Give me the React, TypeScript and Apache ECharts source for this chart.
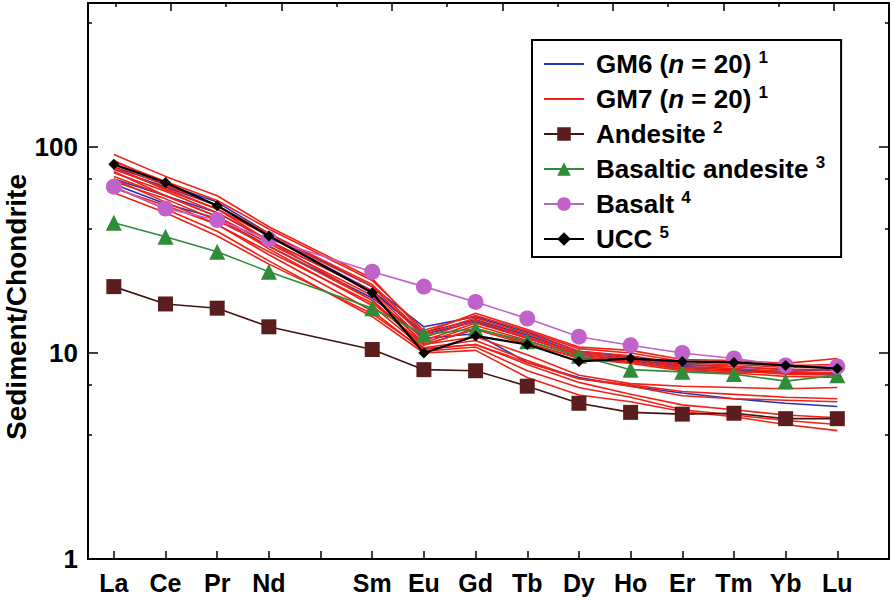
import React, { useEffect, useRef } from 'react';
import * as echarts from 'echarts';

// Element order on the x axis (Pm is a gap with no label)
const ELEMENTS = ['La', 'Ce', 'Pr', 'Nd', 'Pm', 'Sm', 'Eu', 'Gd', 'Tb', 'Dy', 'Ho', 'Er', 'Tm', 'Yb', 'Lu'];
const AXIS_LABELS = ['La', 'Ce', 'Pr', 'Nd', '', 'Sm', 'Eu', 'Gd', 'Tb', 'Dy', 'Ho', 'Er', 'Tm', 'Yb', 'Lu'];
const X_TICKS = [0, 1, 2, 3, 4, 5, 6, 7, 8, 9, 10, 11, 12, 13, 14];
const TOP_MAJOR = [1, 3, 5, 7, 9, 11, 13];
const TOP_MINOR = [0, 2, 4, 6, 8, 10, 12];
const Y_MAJOR = [1, 10, 100];
const Y_MINOR = [4, 7, 40, 70, 400];

// Reference compositions (chondrite normalised), null = Pm
const ANDESITE = [21.0, 17.3, 16.5, 13.4, null, 10.4, 8.3, 8.2, 6.9, 5.7, 5.15, 5.05, 5.1, 4.8, 4.8];
const BASALTIC_ANDESITE = [42.9, 36.7, 31.0, 24.8, null, 16.5, 12.3, 13.1, 11.4, 9.7, 8.3, 8.1, 7.9, 7.3, 7.8];
const BASALT = [64.2, 50.3, 44.2, 35.7, null, 24.8, 21.0, 17.7, 14.7, 12.0, 10.9, 10.0, 9.4, 8.7, 8.6];
const UCC = [82.4, 67.2, 51.9, 37.0, null, 19.6, 10.0, 12.1, 11.0, 9.1, 9.4, 9.1, 9.0, 8.7, 8.4];

// GM6 samples (blue)
const GM6_A = [80, 66, 54, 38, null, 21, 13.4, 15.0, 12.6, 10.2, 9.6, 8.8, 8.6, 8.3, 8.2];
const GM6_B = [78, 64, 52, 37, null, 20, 12.6, 14.5, 12.2, 10.0, 9.4, 8.6, 8.4, 8.1, 8.0];
const GM6_C = [66, 53, 45, 33, null, 18.5, 11.8, 12.4, 9.0, 7.6, 6.9, 6.4, 6.0, 5.7, 5.5];
const GM6_D = [70, 58, 48, 35, null, 20, 12.3, 14.2, 11.8, 9.8, 9.2, 8.5, 8.3, 8.0, 7.9];

// GM7 samples (red)
const GM7_A = [92, 72, 58, 41, null, 23, 12.5, 15.6, 13.0, 10.7, 10.3, 9.3, 9.2, 8.9, 9.4];
const GM7_B = [85, 68, 55, 40, null, 22.5, 12.9, 15.2, 12.8, 10.5, 10.0, 9.1, 9.0, 8.7, 8.8];
const GM7_C = [82, 65, 52, 38, null, 21.5, 12.3, 14.8, 12.4, 10.2, 9.7, 8.9, 8.8, 8.5, 8.5];
const GM7_D = [78, 63, 50, 37, null, 21, 11.9, 14.4, 12.0, 10.0, 9.5, 8.7, 8.6, 8.3, 8.3];
const GM7_E = [75, 61, 48, 35, null, 20, 11.5, 14.0, 11.8, 9.8, 9.3, 8.5, 8.4, 8.1, 8.0];
const GM7_F = [72, 58, 46, 34, null, 19, 11.2, 13.6, 11.5, 9.6, 9.1, 8.3, 8.2, 7.9, 7.8];
const GM7_G = [68, 56, 44, 33, null, 18, 10.9, 13.2, 11.2, 9.4, 8.9, 8.2, 8.0, 7.7, 7.6];
const GM7_H = [63, 52, 42, 31, null, 17.5, 11.0, 13.0, 11.0, 9.5, 9.0, 8.4, 8.1, 8.0, 8.0];
const GM7_I = [86, 66, 52, 37, null, 19.5, 11.0, 12.0, 9.8, 7.8, 7.1, 6.9, 6.8, 6.7, 6.8];
const GM7_J = [80, 62, 50, 35, null, 18, 10.6, 11.5, 9.2, 7.5, 6.9, 6.2, 6.0, 5.9, 5.8];
const GM7_K = [76, 58, 46, 32, null, 17, 10.5, 11.0, 8.8, 7.2, 6.3, 5.6, 5.3, 5.0, 4.85];
const GM7_L = [70, 54, 42, 30, null, 16, 10.2, 10.7, 8.2, 6.8, 6.1, 5.3, 5.0, 4.7, 4.5];
const GM7_M = [64, 50, 39, 28, null, 15, 10.0, 10.3, 7.6, 6.25, 5.8, 5.2, 4.9, 4.5, 4.2];
const GM7_N = [60, 48, 37, 27, null, 15.5, 10.4, 11.0, 9.0, 7.5, 7.0, 6.5, 6.3, 6.1, 6.0];

const GM6_SAMPLES = [GM6_A, GM6_B, GM6_C, GM6_D];
const GM7_SAMPLES = [GM7_A, GM7_B, GM7_C, GM7_D, GM7_E, GM7_F, GM7_G, GM7_H, GM7_I, GM7_J, GM7_K, GM7_L, GM7_M, GM7_N];

const FONT = '"Liberation Sans", Arial, Helvetica, sans-serif';
const BLUE = '#2337b5';
const RED = '#ef2218';
const BROWN = '#5a1e1e';
const BROWN_LINE = '#451212';
const GREEN = '#2f8c38';
const VIOLET = '#c062c9';

const toXY = (vals: (number | null)[]) =>
  vals.map((v, i) => (v == null ? null : [i, v])).filter((p) => p !== null) as number[][];

const LEGEND_TEXT: Record<string, string> = {
  GM6: '{a|GM6 (}{i|n}{u| = 20) }{s|1}',
  GM7: '{a|GM7 (}{i|n}{u| = 20) }{s|1}',
  Andesite: '{a|Andesite }{s|2}',
  'Basaltic andesite': '{a|Basaltic andesite }{s|3}',
  Basalt: '{a|Basalt }{s|4}',
  UCC: '{a|UCC }{s|5}',
};

export default function App() {
  const ref = useRef<HTMLDivElement>(null);

  useEffect(() => {
    if (!ref.current) return;
    const chart = echarts.init(ref.current, undefined, { renderer: 'svg' });

    const series: any[] = [];
    GM6_SAMPLES.forEach((s) =>
      series.push({
        name: 'GM6',
        type: 'line',
        data: toXY(s),
        symbol: 'none',
        lineStyle: { color: BLUE, width: 1.6 },
        itemStyle: { color: BLUE },
        z: 2,
      })
    );
    GM7_SAMPLES.forEach((s) =>
      series.push({
        name: 'GM7',
        type: 'line',
        data: toXY(s),
        symbol: 'none',
        lineStyle: { color: RED, width: 1.6 },
        itemStyle: { color: RED },
        z: 3,
      })
    );
    series.push({
      name: 'Andesite',
      type: 'line',
      data: toXY(ANDESITE),
      symbol: 'rect',
      symbolSize: 15,
      lineStyle: { color: BROWN_LINE, width: 1.6 },
      itemStyle: { color: BROWN },
      z: 4,
    });
    series.push({
      name: 'Basaltic andesite',
      type: 'line',
      data: toXY(BASALTIC_ANDESITE),
      symbol: 'triangle',
      symbolSize: 16,
      lineStyle: { color: GREEN, width: 1.6 },
      itemStyle: { color: GREEN },
      z: 5,
    });
    series.push({
      name: 'Basalt',
      type: 'line',
      data: toXY(BASALT),
      symbol: 'circle',
      symbolSize: 16,
      lineStyle: { color: VIOLET, width: 1.6 },
      itemStyle: { color: VIOLET },
      z: 6,
    });
    series.push({
      name: 'UCC',
      type: 'line',
      data: toXY(UCC),
      symbol: 'diamond',
      symbolSize: 11,
      lineStyle: { color: '#000', width: 2.2 },
      itemStyle: { color: '#000' },
      z: 7,
    });

    const axisLine = { show: true, onZero: false, lineStyle: { color: '#000', width: 2 } };
    const noLine = { show: false, onZero: false };
    const tickStyle = { color: '#000', width: 1.5 };

    chart.setOption({
      animation: false,
      backgroundColor: '#fff',
      grid: { left: 88, right: 5, top: 3, bottom: 43, containLabel: false, outerBoundsMode: 'none' },
      legend: {
        orient: 'vertical',
        left: 532,
        top: 40,
        padding: [9, 16, 3, 11],
        itemWidth: 40,
        itemHeight: 17,
        itemGap: 5,
        borderColor: '#000',
        borderWidth: 2,
        backgroundColor: '#fff',
        selectedMode: false,
        data: [
          { name: 'GM6', itemStyle: { opacity: 0 } },
          { name: 'GM7', itemStyle: { opacity: 0 } },
          { name: 'Andesite' },
          { name: 'Basaltic andesite' },
          { name: 'Basalt' },
          { name: 'UCC' },
        ],
        formatter: (name: string) => LEGEND_TEXT[name] || name,
        textStyle: {
          color: '#000',
          fontFamily: FONT,
          fontSize: 26,
          fontWeight: 'bold',
          lineHeight: 30,
          rich: {
            a: { fontFamily: FONT, fontSize: 26, fontWeight: 'bold', lineHeight: 30, padding: [0, 0, 0, 7], color: '#000' },
            u: { fontFamily: FONT, fontSize: 26, fontWeight: 'bold', lineHeight: 30, color: '#000' },
            i: { fontFamily: FONT, fontSize: 26, fontWeight: 'bold', fontStyle: 'italic', lineHeight: 30, color: '#000' },
            s: { fontFamily: FONT, fontSize: 17, fontWeight: 'bold', lineHeight: 14, verticalAlign: 'top', color: '#000' },
          },
        },
      },
      xAxis: [
        {
          type: 'value',
          position: 'bottom',
          min: -0.5,
          max: 15,
          axisLine,
          splitLine: { show: false },
          axisTick: { show: true, inside: true, length: 8, lineStyle: tickStyle, customValues: X_TICKS },
          axisLabel: {
            show: true,
            customValues: X_TICKS,
            formatter: (v: number) => AXIS_LABELS[Math.round(v)] ?? '',
            color: '#000',
            fontFamily: FONT,
            fontSize: 25,
            fontWeight: 'bold',
            margin: 11,
          },
        },
        {
          type: 'value',
          position: 'top',
          min: -0.5,
          max: 14,
          axisLine,
          splitLine: { show: false },
          axisTick: { show: true, inside: true, length: 8, lineStyle: tickStyle, customValues: TOP_MAJOR },
          axisLabel: { show: false },
        },
        {
          type: 'value',
          position: 'top',
          min: -0.5,
          max: 14,
          axisLine: noLine,
          splitLine: { show: false },
          axisTick: { show: true, inside: true, length: 4, lineStyle: tickStyle, customValues: TOP_MINOR },
          axisLabel: { show: false },
        },
      ],
      yAxis: [
        {
          type: 'log',
          position: 'left',
          min: 1,
          max: 500,
          logBase: 10,
          axisLine,
          splitLine: { show: false },
          axisTick: { show: true, inside: true, length: 10, lineStyle: tickStyle, customValues: Y_MAJOR },
          axisLabel: {
            show: true,
            customValues: Y_MAJOR,
            formatter: (v: number) => String(Math.round(v)),
            color: '#000',
            fontFamily: FONT,
            fontSize: 26,
            fontWeight: 'bold',
            margin: 10,
          },
          name: 'Sediment/Chondrite',
          nameLocation: 'middle',
          nameMoveOverlap: false,
          nameGap: 58,
          nameTextStyle: {
            color: '#000',
            fontFamily: FONT,
            fontSize: 28,
            fontWeight: 'bold',
            lineHeight: 28,
            padding: [0, 52, 0, 0],
          },
        },
        {
          type: 'log',
          position: 'left',
          min: 1,
          max: 500,
          axisLine: noLine,
          splitLine: { show: false },
          axisTick: { show: true, inside: true, length: 4, lineStyle: tickStyle, customValues: Y_MINOR },
          axisLabel: { show: false },
        },
        {
          type: 'log',
          position: 'right',
          min: 1,
          max: 500,
          axisLine,
          splitLine: { show: false },
          axisTick: { show: true, inside: true, length: 10, lineStyle: tickStyle, customValues: Y_MAJOR },
          axisLabel: { show: false },
        },
        {
          type: 'log',
          position: 'right',
          min: 1,
          max: 500,
          axisLine: noLine,
          splitLine: { show: false },
          axisTick: { show: true, inside: true, length: 4, lineStyle: tickStyle, customValues: Y_MINOR },
          axisLabel: { show: false },
        },
      ],
      series,
    });

    return () => chart.dispose();
  }, []);

  return (
    <div
      ref={ref}
      style={{ position: 'fixed', left: 0, top: 0, width: 894, height: 602, background: '#fff' }}
    />
  );
}
